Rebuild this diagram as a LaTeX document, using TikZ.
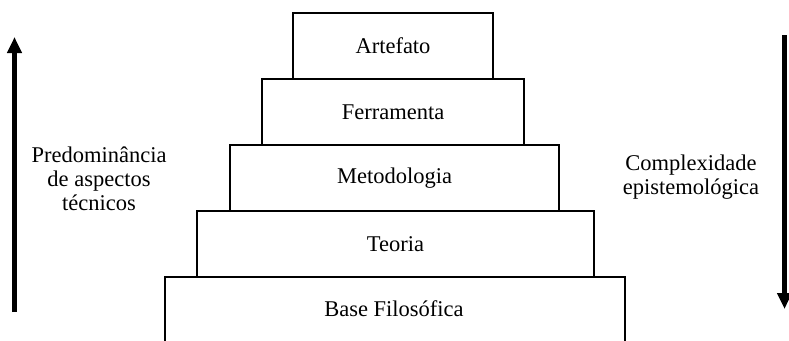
\documentclass[tikz,border=0pt]{standalone}
\usepackage{fontspec}
\setmainfont{Liberation Serif}
\usetikzlibrary{arrows.meta}
\begin{document}
\begin{tikzpicture}[x=1pt,y=-1pt,
  level/.style={draw, line width=2pt, inner sep=0pt, anchor=north west,
    font=\fontsize{22.5}{24}\selectfont},
  sidetext/.style={align=center, inner sep=0pt, font=\fontsize{22.5}{24}\selectfont},
  bigarrow/.style={line width=5pt, -{Triangle[length=16pt,width=14pt]}}]
\useasboundingbox (0,0) rectangle (789,340);
\node[level, minimum width=460pt, minimum height=70pt] (base) at (164,276) {};
\node[level, minimum width=397pt, minimum height=66pt] (teoria) at (196,210) {};
\node[level, minimum width=329pt, minimum height=66pt] (metod) at (229,144) {};
\node[level, minimum width=262pt, minimum height=66pt] (ferr) at (261,78) {};
\node[level, minimum width=200pt, minimum height=66pt] (arte) at (292,12) {};
\node[sidetext] (tarte) at (arte.center) {Artefato};
\node[sidetext] (tferr) at (ferr.center) {Ferramenta};
\node[sidetext] (tmetod) at (metod.center) {Metodologia};
\node[sidetext] (tteoria) at (teoria.center) {Teoria};
\node[sidetext] (tbase) at (394,309) {Base Filosófica};
\node[sidetext] (left) at (99,179) {Predominância\\de aspectos\\técnicos};
\node[sidetext, font=\fontsize{22.5}{23.5}\selectfont] (right) at (691,177) {Complexidade\\epistemológica};
\coordinate (l0) at (14.5,312);
\coordinate (l1) at (14.5,37);
\coordinate (r0) at (784.5,35);
\coordinate (r1) at (784.5,309);
\draw[bigarrow] (l0) -- (l1);
\draw[bigarrow] (r0) -- (r1);
\end{tikzpicture}
\end{document}
